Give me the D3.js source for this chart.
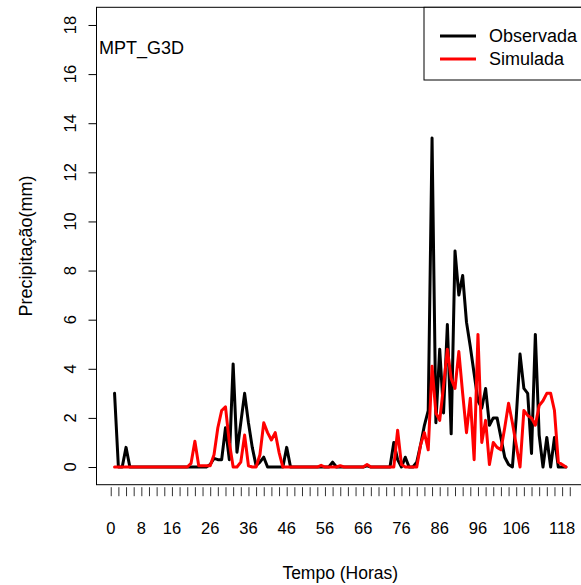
<!DOCTYPE html>
<html>
<head>
<meta charset="utf-8">
<script src="https://cdn.jsdelivr.net/npm/d3@7/dist/d3.min.js"></script>
<style>
  html, body { margin: 0; padding: 0; background: #fff; }
  svg { display: block; }
  text { font-family: "Liberation Sans", Arial, Helvetica, sans-serif; fill: #000; }
</style>
</head>
<body>
<div id="chart"></div>
<script>
// ---- data (hours 1..119) ----
const hours = d3.range(1, 120);
const observada = [
  3.0, 0, 0, 0.8, 0, 0, 0, 0, 0, 0,            // 1-10
  0, 0, 0, 0, 0, 0, 0, 0, 0, 0,                // 11-20
  0, 0, 0, 0, 0, 0.1, 0.35, 0.3, 0.3, 1.6,     // 21-30
  0.3, 4.2, 0.6, 1.8, 3.0, 1.8, 0.8, 0.05, 0.2, 0.4, // 31-40
  0, 0, 0, 0, 0, 0.8, 0, 0, 0, 0,              // 41-50
  0, 0, 0, 0, 0, 0, 0, 0.2, 0, 0,              // 51-60
  0, 0, 0, 0, 0, 0, 0.05, 0, 0, 0,             // 61-70
  0, 0, 0, 1.0, 0.3, 0, 0.4, 0, 0, 0.2,        // 71-80
  0.9, 1.7, 2.3, 13.4, 1.8, 4.8, 2.2, 5.8, 1.35, 8.8, // 81-90
  7.0, 7.8, 5.9, 4.9, 3.8, 2.7, 2.4, 3.2, 1.7, 2.0,   // 91-100
  2.0, 1.2, 0.4, 0.1, 0, 2.0, 4.6, 3.2, 3.0, 0.55,    // 101-110
  5.4, 1.3, 0, 1.2, 0, 1.2, 0, 0, 0                   // 111-119
];
const simulada = [
  0, 0, 0, 0, 0, 0, 0, 0, 0, 0,                // 1-10
  0, 0, 0, 0, 0, 0, 0, 0, 0, 0,                // 11-20
  0.15, 1.05, 0.05, 0.05, 0.05, 0.05, 0.5, 1.6, 2.3, 2.45, // 21-30
  1.0, 0, 0, 0.2, 1.3, 0.05, 0, 0, 0.5, 1.8,   // 31-40
  1.4, 1.1, 1.4, 0.6, 0, 0, 0, 0, 0, 0,        // 41-50
  0, 0, 0, 0, 0.07, 0, 0, 0, 0, 0.05,          // 51-60
  0, 0, 0, 0, 0, 0, 0.1, 0, 0, 0,              // 61-70
  0, 0, 0, 0, 1.5, 0.1, 0, 0, 0, 0,            // 71-80
  0.9, 1.4, 0.7, 4.1, 2.2, 1.9, 3.3, 4.8, 3.6, 3.2,   // 81-90
  4.7, 3.0, 1.4, 2.8, 0.3, 5.4, 1.0, 1.9, 0.1, 1.0,   // 91-100
  0.8, 0.7, 1.6, 2.6, 1.8, 0.9, 0, 2.3, 2.1, 2.0,     // 101-110
  1.7, 2.5, 2.7, 3.0, 3.0, 2.3, 0.2, 0.1, 0           // 111-119
];
const xTickValues = d3.range(0, 121, 2);
const xTickLabels = [0, 8, 16, 26, 36, 46, 56, 66, 76, 86, 96, 106, 118];
const yTickValues = [0, 2, 4, 6, 8, 10, 12, 14, 16, 18];
const seriesNames = ["Observada", "Simulada"];
const seriesColors = ["#000000", "#ff0000"];

// ---- layout ----
const W = 581, H = 585;
const plot = { left: 96.5, top: 7.3, right: 584, bottom: 484.7 };

const svg = d3.select("#chart").append("svg")
  .attr("width", W).attr("height", H);

const x = d3.scaleLinear()
  .domain([1 - 0.04 * 118, 119 + 0.04 * 118])
  .range([plot.left, plot.right]);
const y = d3.scaleLinear()
  .domain([-0.72, 18.72])
  .range([plot.bottom, plot.top]);

// series lines
const line = d3.line().x((d, i) => x(hours[i])).y(d => y(d));
[observada, simulada].forEach((s, k) => {
  svg.append("path")
    .datum(s)
    .attr("d", line)
    .attr("fill", "none")
    .attr("stroke", seriesColors[k])
    .attr("stroke-width", 3)
    .attr("stroke-linejoin", "round")
    .attr("stroke-linecap", "round");
});

// box
svg.append("rect")
  .attr("x", plot.left).attr("y", plot.top)
  .attr("width", plot.right - plot.left).attr("height", plot.bottom - plot.top)
  .attr("fill", "none").attr("stroke", "#000").attr("stroke-width", 1);

// y axis
const yAxis = d3.axisLeft(y).tickValues(yTickValues).tickSize(8).tickPadding(0).tickFormat("");
const gy = svg.append("g").attr("transform", `translate(${plot.left},0)`).call(yAxis);
gy.select(".domain").remove();
gy.selectAll(".tick line").attr("stroke", "#000");
svg.append("g").selectAll("text").data(yTickValues).join("text")
  .attr("transform", d => `translate(76,${y(d)}) rotate(-90)`)
  .attr("text-anchor", "middle")
  .attr("font-size", 16.5)
  .text(d => d);

// x axis (ticks only, slightly below box)
const xAxis = d3.axisBottom(x).tickValues(xTickValues).tickSize(9).tickFormat("");
const gx = svg.append("g").attr("transform", `translate(0,${plot.bottom + 2.5})`).call(xAxis);
gx.select(".domain").remove();
gx.selectAll(".tick line").attr("stroke", "#333");
svg.append("g").selectAll("text").data(xTickLabels).join("text")
  .attr("x", d => x(d)).attr("y", 534)
  .attr("text-anchor", "middle")
  .attr("font-size", 16.5)
  .text(d => d);

// axis titles
svg.append("text")
  .attr("x", (x(0) + x(120)) / 2).attr("y", 579)
  .attr("text-anchor", "middle").attr("font-size", 17.5)
  .text("Tempo (Horas)");
svg.append("text")
  .attr("transform", `translate(32,${(y(0) + y(18)) / 2}) rotate(-90)`)
  .attr("text-anchor", "middle").attr("font-size", 18)
  .text("Precipitação(mm)");

// in-plot label
svg.append("text")
  .attr("x", 99).attr("y", 54)
  .attr("font-size", 18)
  .text("MPT_G3D");

// legend
const lg = svg.append("g");
lg.append("rect")
  .attr("x", 424).attr("y", plot.top)
  .attr("width", plot.right - 424).attr("height", 80 - plot.top)
  .attr("fill", "#fff").attr("stroke", "#000").attr("stroke-width", 1);
seriesNames.forEach((n, i) => {
  const cy = 36 + i * 23;
  lg.append("line")
    .attr("x1", 440).attr("x2", 476).attr("y1", cy).attr("y2", cy)
    .attr("stroke", seriesColors[i]).attr("stroke-width", 3);
  lg.append("text")
    .attr("x", 489).attr("y", cy + 6)
    .attr("font-size", 18)
    .text(n);
});
</script>
</body>
</html>
